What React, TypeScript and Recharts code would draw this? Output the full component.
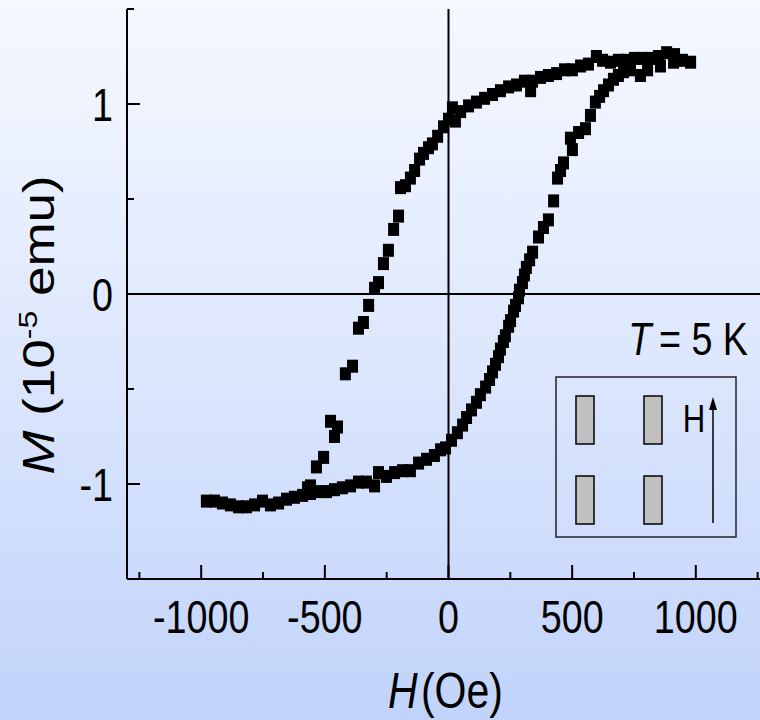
import React from 'react';
import { ScatterChart, Scatter, XAxis, YAxis, ReferenceLine } from 'recharts';

// field sweep from +H down to -H (upper branch)
const hDown = [
  979, 946, 914, 882, 849, 817, 784, 752, 720, 687, 655, 623, 598, 566, 534, 501, 469, 437, 404, 372,
  340, 332, 307, 275, 243, 210, 178, 146, 113, 81, 49, 16, 28, 0, -20, -44, -65, -81, -101, -117,
  -137, -154, -174, -194, -202, -222, -243, -263, -283, -299, -323, -344, -364, -388, -417, -477, -449, -461, -505, -534,
  -558, -570,
];
const mDown = [
  1.22, 1.23, 1.26, 1.27, 1.25, 1.24, 1.24, 1.24, 1.23, 1.23, 1.22, 1.23, 1.25, 1.21, 1.2, 1.18, 1.18, 1.16, 1.15, 1.14,
  1.12, 1.07, 1.12, 1.1, 1.09, 1.07, 1.05, 1.03, 1.01, 0.99, 0.96, 0.98, 0.91, 0.92, 0.88, 0.83, 0.79, 0.77, 0.74, 0.71,
  0.65, 0.61, 0.57, 0.56, 0.41, 0.34, 0.23, 0.16, 0.06, 0.03, -0.06, -0.15, -0.18, -0.38, -0.42, -0.67, -0.7, -0.75, -0.86, -0.91,
  -1.01, -1.02,
];

// field sweep from -H up to +H (lower branch)
const hUp = [
  -979, -946, -914, -882, -849, -817, -784, -752, -720, -687, -655, -623, -590, -558, -526, -493, -461, -429, -396, -364,
  -332, -299, -283, -251, -218, -186, -154, -121, -89, -57, -32, -12, 12, 36, 57, 73, 93, 113, 129, 150,
  166, 178, 190, 202, 210, 222, 230, 243, 251, 263, 271, 283, 287, 299, 307, 315, 328, 340, 364, 384,
  404, 425, 441, 453, 465, 501, 493, 526, 554, 574, 594, 611, 627, 647, 667, 687, 708, 736, 776, 805,
  857, 910,
];
const mUp = [
  -1.09, -1.09, -1.1, -1.11, -1.12, -1.12, -1.11, -1.09, -1.11, -1.1, -1.08, -1.07, -1.06, -1.05, -1.04, -1.04, -1.03, -1.02, -1.01, -0.99,
  -0.99, -1.01, -0.94, -0.96, -0.94, -0.93, -0.93, -0.89, -0.87, -0.85, -0.82, -0.81, -0.77, -0.73, -0.69, -0.65, -0.61, -0.57, -0.53, -0.49,
  -0.45, -0.41, -0.37, -0.33, -0.29, -0.25, -0.22, -0.17, -0.14, -0.09, -0.06, -0.02, 0.02, 0.06, 0.1, 0.14, 0.18, 0.22, 0.3, 0.35,
  0.39, 0.49, 0.61, 0.65, 0.69, 0.76, 0.82, 0.85, 0.87, 0.94, 1.01, 1.04, 1.07, 1.1, 1.13, 1.15, 1.17, 1.18, 1.15, 1.18,
  1.2, 1.22,
];

const xTicks = [-1250, -1000, -750, -500, -250, 0, 250, 500, 750, 1000, 1250];
const xLabels = [-1000, -500, 0, 500, 1000];
const yTicks = [-1.5, -1, -0.5, 0, 0.5, 1, 1.5];
const yLabels = [-1, 0, 1];

const FONT = "'Liberation Sans', Arial, sans-serif";
const SQ = 0.82; // the figure is squeezed horizontally
const TOP = 9;
const BOTTOM = 579;
const LEFT = 127;
const RIGHT = 770;

const loop = [
  ...hDown.map((h, i) => ({ h, m: mDown[i] })),
  ...hUp.map((h, i) => ({ h, m: mUp[i] })),
];

const Square = (props: any) => {
  const { cx, cy } = props;
  if (cx == null || cy == null) return null;
  return <rect x={cx - 5.5} y={cy - 6.5} width={11} height={13} fill="#000" />;
};

const BottomTick = (props: any) => {
  const { x, payload } = props;
  const major = xLabels.includes(payload.value);
  return (
    <g>
      <line x1={x} x2={x} y1={BOTTOM} y2={BOTTOM - (major ? 14 : 7)} stroke="#000" strokeWidth={2} />
      {major && (
        <text
          transform={`translate(${x} 633) scale(${SQ} 1)`}
          textAnchor="middle"
          fontFamily={FONT}
          fontSize={46}
          fill="#000"
        >
          {payload.value}
        </text>
      )}
    </g>
  );
};

const TopTick = (props: any) => {
  const { x, payload } = props;
  const major = xLabels.includes(payload.value);
  return <line x1={x} x2={x} y1={TOP} y2={TOP + (major ? 15 : 8)} stroke="#000" strokeWidth={2} />;
};

const LeftTick = (props: any) => {
  const { y, payload } = props;
  const major = yLabels.includes(payload.value);
  return (
    <g>
      <line x1={LEFT} x2={LEFT + (major ? 13 : 7)} y1={y} y2={y} stroke="#000" strokeWidth={2} />
      {major && (
        <text
          transform={`translate(113 ${y + 16.5}) scale(${SQ} 1)`}
          textAnchor="end"
          fontFamily={FONT}
          fontSize={46}
          fill="#000"
        >
          {payload.value}
        </text>
      )}
    </g>
  );
};

const RightTick = (props: any) => {
  const { y, payload } = props;
  const major = yLabels.includes(payload.value);
  return <line x1={RIGHT} x2={RIGHT - (major ? 13 : 7)} y1={y} y2={y} stroke="#000" strokeWidth={2} />;
};

export default function App() {
  return (
    <div
      style={{
        position: 'fixed',
        left: 0,
        top: 0,
        width: 760,
        height: 720,
        overflow: 'hidden',
        background: 'linear-gradient(to bottom, #f5f8ff 0%, #dde7fd 50%, #c1d3fb 100%)',
      }}
    >
      <ScatterChart width={800} height={720} margin={{ top: TOP, right: 800 - RIGHT, bottom: 81, left: 0 }}>
        <XAxis
          xAxisId="b"
          type="number"
          dataKey="h"
          domain={[-1300, 1300]}
          ticks={xTicks}
          height={60}
          axisLine={{ stroke: '#000', strokeWidth: 2 }}
          tickLine={false}
          tick={<BottomTick />}
          interval={0}
        />
        <XAxis
          xAxisId="t"
          orientation="top"
          type="number"
          dataKey="h"
          domain={[-1300, 1300]}
          ticks={xTicks}
          height={0}
          axisLine={{ stroke: '#000', strokeWidth: 2 }}
          tickLine={false}
          tick={<TopTick />}
          interval={0}
        />
        <YAxis
          yAxisId="l"
          type="number"
          dataKey="m"
          domain={[-1.5, 1.5]}
          ticks={yTicks}
          width={LEFT}
          axisLine={{ stroke: '#000', strokeWidth: 2 }}
          tickLine={false}
          tick={<LeftTick />}
          interval={0}
        />
        <YAxis
          yAxisId="r"
          orientation="right"
          type="number"
          dataKey="m"
          domain={[-1.5, 1.5]}
          ticks={yTicks}
          width={0}
          axisLine={{ stroke: '#000', strokeWidth: 2 }}
          tickLine={false}
          tick={<RightTick />}
          interval={0}
        />
        <ReferenceLine xAxisId="b" yAxisId="l" x={0} stroke="#000" strokeWidth={2} />
        <ReferenceLine xAxisId="b" yAxisId="l" y={0} stroke="#000" strokeWidth={2} />
        <Scatter xAxisId="b" yAxisId="l" data={loop} shape={<Square />} isAnimationActive={false} />
      </ScatterChart>

      <svg width={760} height={720} style={{ position: 'absolute', left: 0, top: 0, pointerEvents: 'none' }}>
        <text transform={`translate(388 708) scale(${SQ} 1)`} fontFamily={FONT} fontSize={50} fill="#000">
          <tspan fontStyle="italic">H</tspan>
          <tspan dx={4}>(Oe)</tspan>
        </text>
        <text
          transform={`translate(54 325) scale(${SQ} 1) rotate(-90)`}
          textAnchor="middle"
          fontFamily={FONT}
          fontSize={53}
          fill="#000"
        >
          <tspan fontStyle="italic">M</tspan>
          <tspan> (10</tspan>
          <tspan dy={-21} fontSize={32}>-5</tspan>
          <tspan dy={21}> emu)</tspan>
        </text>
        <text
          transform={`translate(748 355) scale(${SQ} 1)`}
          textAnchor="end"
          fontFamily={FONT}
          fontSize={46}
          fill="#000"
        >
          <tspan fontStyle="italic">T</tspan>
          <tspan>{'\u2009= 5 K'}</tspan>
        </text>

        <rect x={556} y={377} width={180} height={160} fill="none" stroke="#222" strokeWidth={1.5} />
        <rect x={576} y={396} width={18} height={48} fill="#c0c0c0" stroke="#000" strokeWidth={1.5} />
        <rect x={644} y={396} width={18} height={48} fill="#c0c0c0" stroke="#000" strokeWidth={1.5} />
        <rect x={576} y={476} width={18} height={48} fill="#c0c0c0" stroke="#000" strokeWidth={1.5} />
        <rect x={644} y={476} width={18} height={48} fill="#c0c0c0" stroke="#000" strokeWidth={1.5} />
        <text
          transform={`translate(694 432) scale(${SQ} 1)`}
          textAnchor="middle"
          fontFamily={FONT}
          fontSize={38}
          fill="#000"
        >
          H
        </text>
        <line x1={713} x2={713} y1={523} y2={408} stroke="#000" strokeWidth={1.5} />
        <polygon points="713,397 709,410 717,410" fill="#000" />
      </svg>
    </div>
  );
}
